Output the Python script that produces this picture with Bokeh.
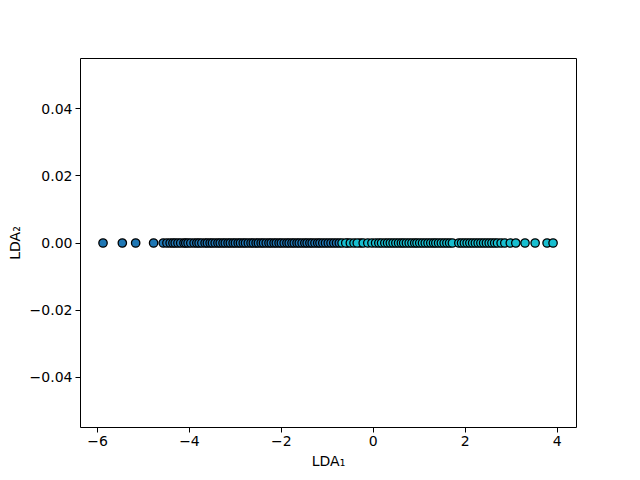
from bokeh.plotting import figure
from bokeh.models import Range1d, FixedTicker, CustomJSTickFormatter, ColumnDataSource
from bokeh.embed import file_html
from bokeh.resources import INLINE

# LDA_1 projections, class 0 (blue) and class 1 (cyan); LDA_2 is all zero
lda1_class0 = [-5.88, -5.46, -5.17, -4.78, -4.57, -4.49, -4.42, -4.36, -4.31, -4.25,
               -4.19, -4.12, -4.08, -4.03, -3.97, -3.90, -3.84, -3.79, -3.73, -3.66,
               -3.61, -3.55, -3.50, -3.44, -3.38, -3.33, -3.27, -3.22, -3.16, -3.11,
               -3.05, -3.00, -2.94, -2.89, -2.83, -2.78, -2.72, -2.66, -2.61, -2.55,
               -2.50, -2.44, -2.39, -2.33, -2.27, -2.22, -2.16, -2.11, -2.05, -2.00,
               -1.94, -1.88, -1.83, -1.77, -1.72, -1.66, -1.61, -1.55, -1.49, -1.44,
               -1.38, -1.33, -1.27, -1.21, -1.16, -1.10, -1.04, -0.98, -0.92, -0.86,
               -0.80, -0.74, -0.56, -0.28]
lda1_class1 = [-0.68, -0.60, -0.50, -0.42, -0.35, -0.22, -0.12, -0.03, 0.05, 0.12,
               0.18, 0.25, 0.31, 0.37, 0.43, 0.49, 0.55, 0.61, 0.66, 0.72,
               0.78, 0.84, 0.90, 0.95, 1.01, 1.07, 1.13, 1.19, 1.25, 1.31,
               1.36, 1.42, 1.48, 1.54, 1.60, 1.66, 1.72, 1.86, 1.92, 1.98,
               2.04, 2.10, 2.16, 2.22, 2.28, 2.34, 2.40, 2.46, 2.52, 2.58,
               2.64, 2.70, 2.78, 2.86, 2.98, 3.10, 3.30, 3.52, 3.78, 3.91]
class_colors = ["#1f77b4", "#17becf"]
x_ticks = [-6, -4, -2, 0, 2, 4]
y_ticks = [-0.04, -0.02, 0.0, 0.02, 0.04]

FONT = "DejaVu Sans"

p = figure(width=632, height=472, output_backend="svg", toolbar_location=None,
           x_range=Range1d(-6.37, 4.42), y_range=Range1d(-0.055, 0.055),
           min_border_left=80, min_border_right=56, min_border_top=58, min_border_bottom=45)

for xs, col in zip([lda1_class0, lda1_class1], class_colors):
    src = ColumnDataSource(dict(x=xs, y=[0.0] * len(xs)))
    p.scatter("x", "y", source=src, size=8.4, fill_color=col, line_color="black", line_width=1.3)

p.xgrid.visible = False
p.ygrid.visible = False
p.outline_line_color = "black"
p.outline_line_width = 1
p.background_fill_color = "white"
p.border_fill_color = "white"

p.xaxis.ticker = FixedTicker(ticks=x_ticks)
p.yaxis.ticker = FixedTicker(ticks=y_ticks)
p.xaxis.formatter = CustomJSTickFormatter(code="return (tick < 0 ? '\u2212' : '') + Math.abs(tick).toFixed(0);")
p.yaxis.formatter = CustomJSTickFormatter(code="return (tick < -1e-12 ? '\u2212' : '') + Math.abs(tick).toFixed(2);")
p.xaxis.axis_label = "LDA\u2081"
p.yaxis.axis_label = "LDA\u2082"

for ax in (p.xaxis, p.yaxis):
    ax.axis_line_color = None
    ax.major_tick_in = 0
    ax.major_tick_out = 5
    ax.major_tick_line_color = "black"
    ax.minor_tick_line_color = None
    ax.major_label_text_font = FONT
    ax.major_label_text_font_size = "14px"
    ax.major_label_text_color = "black"
    ax.axis_label_text_font = FONT
    ax.axis_label_text_font_size = "14px"
    ax.axis_label_text_font_style = "normal"
    ax.axis_label_text_color = "black"
    ax.major_label_standoff = 3
    ax.axis_label_standoff = 4

open("out.html", "w").write(file_html(p, INLINE))
